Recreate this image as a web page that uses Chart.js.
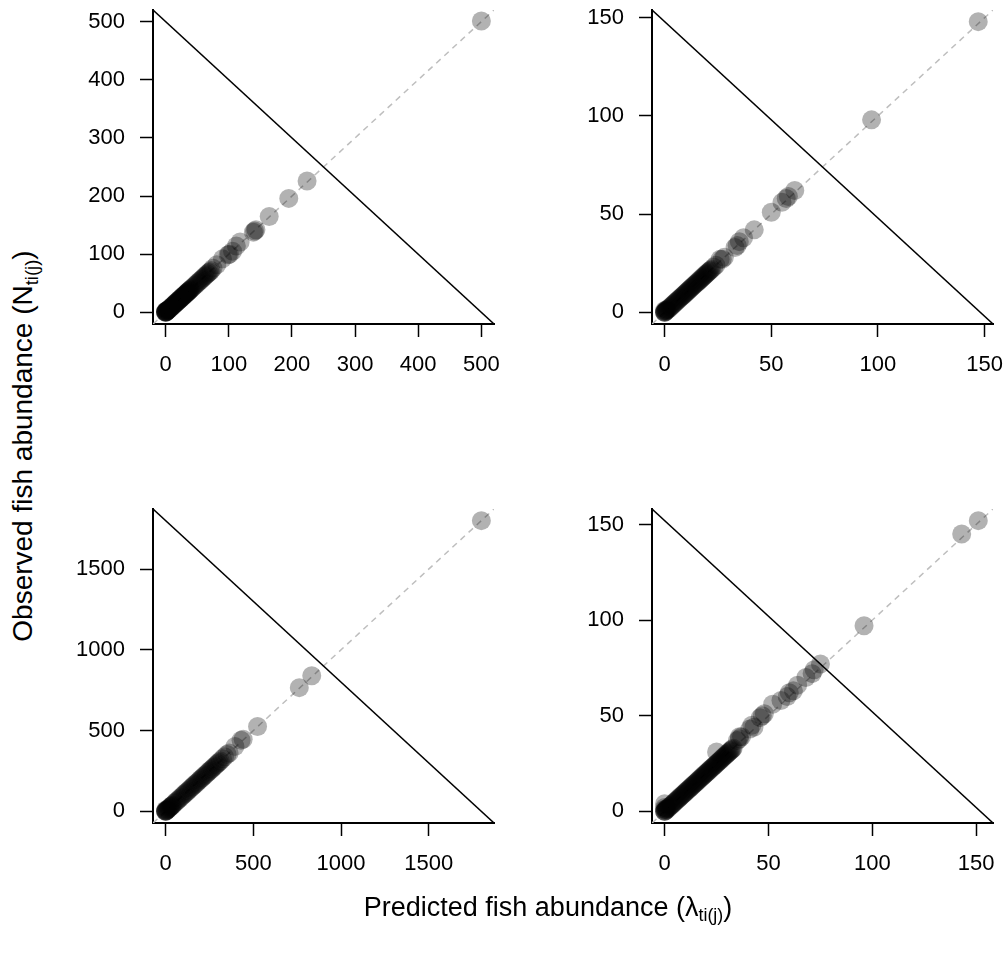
<!DOCTYPE html>
<html>
<head>
<meta charset="utf-8">
<script src="https://cdn.jsdelivr.net/npm/chart.js@4.4.1/dist/chart.umd.min.js"></script>
<style>
  body { margin:0; background:#fff; width:1008px; height:953px; position:relative; overflow:hidden;
         font-family:'Liberation Sans', Arial, Helvetica, sans-serif; color:#000; }
  canvas { position:absolute; }
  .lab { position:absolute; white-space:nowrap; line-height:1; }
  .lab sub { font-size:0.66em; vertical-align:-0.3em; line-height:0; }
  #ylab { left:23px; top:446px; font-size:28px; transform:translate(-50%,-50%) rotate(-90deg); }
  #xlab { left:548px; top:907px; font-size:27px; transform:translate(-50%,-50%); }
</style>
</head>
<body>
<canvas id="c-tl" width="471" height="394" style="left:43px;top:0px"></canvas>
<canvas id="c-tr" width="471" height="394" style="left:542px;top:0px"></canvas>
<canvas id="c-bl" width="471" height="394" style="left:43px;top:499px"></canvas>
<canvas id="c-br" width="471" height="394" style="left:542px;top:499px"></canvas>
<div id="ylab" class="lab">Observed fish abundance (N<sub>ti(j)</sub>)</div>
<div id="xlab" class="lab">Predicted fish abundance (λ<sub>ti(j)</sub>)</div>
<script>
'use strict';
const FONT = "'Liberation Sans', Arial, Helvetica, sans-serif";

// ── Data ──────────────────────────────────────────────────
// top-left
const maxTL   = 500;
const ticksTL = [0, 100, 200, 300, 400, 500];
const predTL  = [0,0,0,0,0,0,1,1,2,2,3,3,4,5,6,7,8,9,10,11,12,13,14,15,16,17,18,19,20,21,22,23,24,25,26,27,28,29,30,31,32,33,34,35,36,37,38,39,40,42,44,46,48,50,52,54,56,58,60,62,64,66,68,70,72,75,81,90,99,101,106,112,118,139,141,143,164,195,224,500];
const obsTL   = [0,0,1,0,2,1,1,2,2,3,3,4,4,5,6,7,8,9,10,11,12,13,14,15,16,17,18,19,20,21,22,23,24,25,26,27,28,29,30,31,32,33,34,35,36,37,38,39,40,42,44,46,48,50,52,54,56,58,60,62,64,66,68,70,72,76,82,92,99,100,105,114,121,138,140,142,165,196,226,501];

// top-right
const maxTR   = 148;
const ticksTR = [0, 50, 100, 150];
const predTR  = [0,0,0,0,0,0.5,0.5,1,1,1.5,2,2.5,3,3.5,4,4.5,5,5.5,6,6.5,7,7.5,8,8.5,9,9.5,10,10.5,11,11.5,12,12.5,13,13.5,14,14.5,15,15.5,16,16.5,17,17.5,18,18.5,19,19.5,20,20.5,21,21.5,22,23,24,26,27,28,33,34,35,37,42,50,55,57,58,61,97,147];
const obsTR   = [0,0,0.5,0,1,0.5,1,1,1.5,1.5,2,2.5,3,3.5,4,4.5,5,5.5,6,6.5,7,7.5,8,8.5,9,9.5,10,10.5,11,11.5,12,12.5,13,13.5,14,14.5,15,15.5,16,16.5,17,17.5,18,18.5,19,19.5,20,20.5,21,21.5,22,23,24,27,27,28,33,34,36,38,42,51,56,58,59,62,98,148];

// bottom-left
const maxBL   = 1800;
const ticksBL = [0, 500, 1000, 1500];
const predBL  = [0,0,0,0,0,4,8,12,16,20,24,28,32,36,40,48,56,64,72,80,88,96,104,112,120,128,136,144,152,160,168,176,184,192,200,208,216,224,232,240,248,256,264,272,280,288,296,304,312,324,336,350,362,395,430,442,524,762,833,1800];
const obsBL   = [0,0,4,0,8,4,8,12,16,20,24,28,32,36,40,48,56,64,72,80,88,96,104,112,120,128,136,144,152,160,168,176,184,192,200,208,216,224,232,240,248,256,264,272,280,288,296,304,312,326,338,352,361,402,440,447,526,766,840,1800];

// bottom-right
const maxBR   = 152;
const ticksBR = [0, 50, 100, 150];
const predBR  = [0,0,0,0,0,0,0.5,0.5,1,1,1.5,2,2.5,3,3.5,4,4.5,5,5.5,6,6.5,7,7.5,8,8.5,9,9.5,10,10.5,11,11.5,12,12.5,13,13.5,14,14.5,15,15.5,16,16.5,17,17.5,18,18.5,19,19.5,20,20.5,21,21.5,22,22.5,23,23.5,24,24.5,25,25.5,26,26.5,27,27.5,28,28.5,29,29.5,30,30.5,31,31.5,32,32.5,33,25,35,36,36,37,41,42,43,46,47,48,52,56,59,60,62,64,68,71,72,75,96,143,151];
const obsBR   = [0,0,1,0,2,4,0.5,1,1,1.5,1.5,2,2.5,3,3.5,4,4.5,5,5.5,6,6.5,7,7.5,8,8.5,9,9.5,10,10.5,11,11.5,12,12.5,13,13.5,14,14.5,15,15.5,16,16.5,17,17.5,18,18.5,19,19.5,20,20.5,21,21.5,22,22.5,23,23.5,24,24.5,25,25.5,26,26.5,27,27.5,28,28.5,29,29.5,30,30.5,31,31.5,32,32.5,33,31,37,38,39,39,43,45,44,49,50,51,56,58,60,62,63,66,70,72,74,77,97,145,152];

// ── Panel ─────────────────────────────────────────────────
const $ = id => document.getElementById(id);

function axis(pos, lo, hi, ticks) {
  const horiz = pos === 'bottom';
  return {
    type: 'linear', position: pos, min: lo, max: hi,
    afterBuildTicks: s => { s.ticks = ticks.map(v => ({ value: v })); },
    afterFit: s => {
      if (horiz) { s.height = 70; s.paddingLeft = 0; s.paddingRight = 0; }
      else { s.width = 110; s.paddingTop = 0; s.paddingBottom = 0; }
    },
    border: { display: true, color: '#000', width: 2 },
    grid: { drawOnChartArea: false, drawTicks: true, tickLength: 13, tickWidth: 1.5, tickColor: '#000' },
    ticks: { color: '#000', font: { family: FONT, size: 22 }, padding: horiz ? 15 : 15, maxRotation: 0,
             callback: v => String(v) },
  };
}

function panel(id, max, ticks, pred, obs) {
  const lo = -0.04 * max, hi = 1.04 * max;
  new Chart($(id), {
    type: 'scatter',
    data: { datasets: [
      // first dataset is painted last: solid line on top, then points, dashed 1:1 line underneath
      { data: [{ x: lo, y: hi }, { x: hi, y: lo }], showLine: true, borderColor: '#000', borderWidth: 1.5, pointRadius: 0 },
      { data: pred.map((x, i) => ({ x, y: obs[i] })), backgroundColor: 'rgba(0,0,0,0.3)', borderWidth: 0, pointRadius: 9.5 },
      { data: [{ x: lo, y: lo }, { x: hi, y: hi }], showLine: true, borderColor: '#bebebe', borderWidth: 1.5, borderDash: [6, 5], pointRadius: 0 },
    ]},
    options: {
      responsive: false, animation: false, events: [],
      layout: { padding: { top: 10, right: 20, left: 0, bottom: 0 } },
      plugins: { legend: { display: false }, tooltip: { enabled: false } },
      scales: { x: axis('bottom', lo, hi, ticks), y: axis('left', lo, hi, ticks) },
    },
  });
}

panel('c-tl', maxTL, ticksTL, predTL, obsTL);
panel('c-tr', maxTR, ticksTR, predTR, obsTR);
panel('c-bl', maxBL, ticksBL, predBL, obsBL);
panel('c-br', maxBR, ticksBR, predBR, obsBR);
</script>
</body>
</html>
